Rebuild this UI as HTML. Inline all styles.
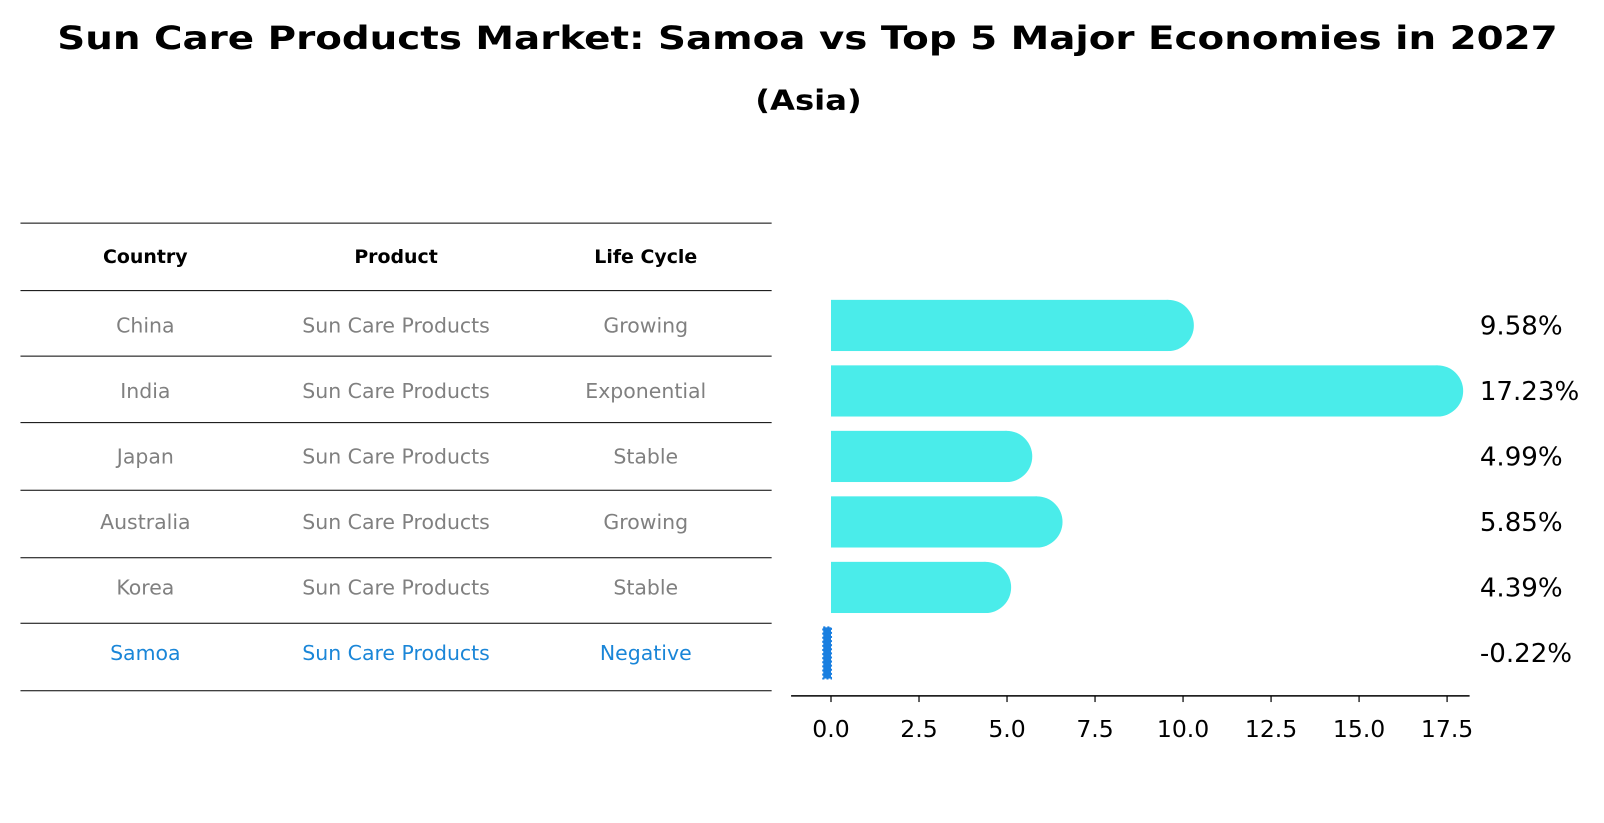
<!DOCTYPE html>
<html><head><meta charset="utf-8"><style>
body{margin:0;background:#fff;font-family:"DejaVu Sans","Liberation Sans",sans-serif}
#root{position:relative;width:1604px;height:823px;overflow:hidden}
</style></head><body>
<div id="root">
<svg id="svg" width="1604" height="823" style="position:absolute;left:0;top:0;font-family:'DejaVu Sans','Liberation Sans',sans-serif">
<g id="g" transform="scale(1.0234)">
<text x="789" y="48" text-anchor="middle" font-size="31" font-weight="bold" textLength="1466" lengthAdjust="spacingAndGlyphs">Sun Care Products Market: Samoa vs Top 5 Major Economies in 2027</text>
<text x="790" y="107" text-anchor="middle" font-size="27" font-weight="bold" textLength="104" lengthAdjust="spacingAndGlyphs">(Asia)</text>
</g>
</svg>
</div>
<script>
const countries=["China","India","Japan","Australia","Korea","Samoa"];
const products=["Sun Care Products","Sun Care Products","Sun Care Products","Sun Care Products","Sun Care Products","Sun Care Products"];
const lifecycles=["Growing","Exponential","Stable","Growing","Stable","Negative"];
const growth=[9.58,17.23,4.99,5.85,4.39,-0.22];
const ticks=[0,2.5,5,7.5,10,12.5,15,17.5];
const NS="http://www.w3.org/2000/svg";
const g=document.getElementById('g');
function mk(tag,attrs,name,text){const e=document.createElementNS(NS,tag);for(const k in attrs)e.setAttribute(k,attrs[k]);


if(text!==undefined)e.textContent=text;g.appendChild(e);return e;}
const x=v=>812+v*(602/17.5);
const rowY=i=>318+i*64;
const lines=[218,284,348,413,479,545,609,675];
lines.forEach(y=>mk('line',{x1:20,x2:754,y1:y,y2:y,stroke:'#000','stroke-width':1},'table-rule'));
const cols=[142,387,631];
["Country","Product","Life Cycle"].forEach((h,j)=>mk('text',{x:cols[j],y:257,'text-anchor':'middle','font-size':18.5,'font-weight':'bold',fill:'#000'},'table-header',h));
countries.forEach((c,i)=>{
  const col=i===countries.length-1?'#1a86d8':'#808080';
  const y=rowY(i)+7;
  [c,products[i],lifecycles[i]].forEach((t,j)=>mk('text',{x:cols[j],y:y,'text-anchor':'middle','font-size':20,fill:col},'table-cell',t));
});
growth.forEach((v,i)=>{
  const cy=rowY(i),h=50;
  if(v>=0){
    mk('rect',{x:x(0),y:cy-h/2,width:x(v)-x(0),height:h,fill:'#4aecea'},'bar-'+countries[i].toLowerCase());
    mk('circle',{cx:x(v),cy:cy,r:h/2,fill:'#4aecea'},'bar-cap');
  }else{
    mk('rect',{x:x(v),y:cy-h/2,width:Math.max(x(0)-x(v),4),height:h,fill:'#1a7fe0',stroke:'#1a7fe0','stroke-width':2,'stroke-dasharray':'2 2'},'bar-'+countries[i].toLowerCase());
  }
  mk('text',{x:1446,y:cy+9,'font-size':25.5,fill:'#000'},'value-label',v.toFixed(2)+'%');
});
mk('line',{x1:773,x2:1436,y1:680,y2:680,stroke:'#000','stroke-width':1.5},'x-axis-line');
ticks.forEach(t=>{
  mk('line',{x1:x(t),x2:x(t),y1:680,y2:686,stroke:'#000','stroke-width':1.2},'x-tick');
  mk('text',{x:x(t),y:720,'text-anchor':'middle','font-size':23,fill:'#000'},'x-tick-label',t.toFixed(1));
});
</script>
</body></html>
